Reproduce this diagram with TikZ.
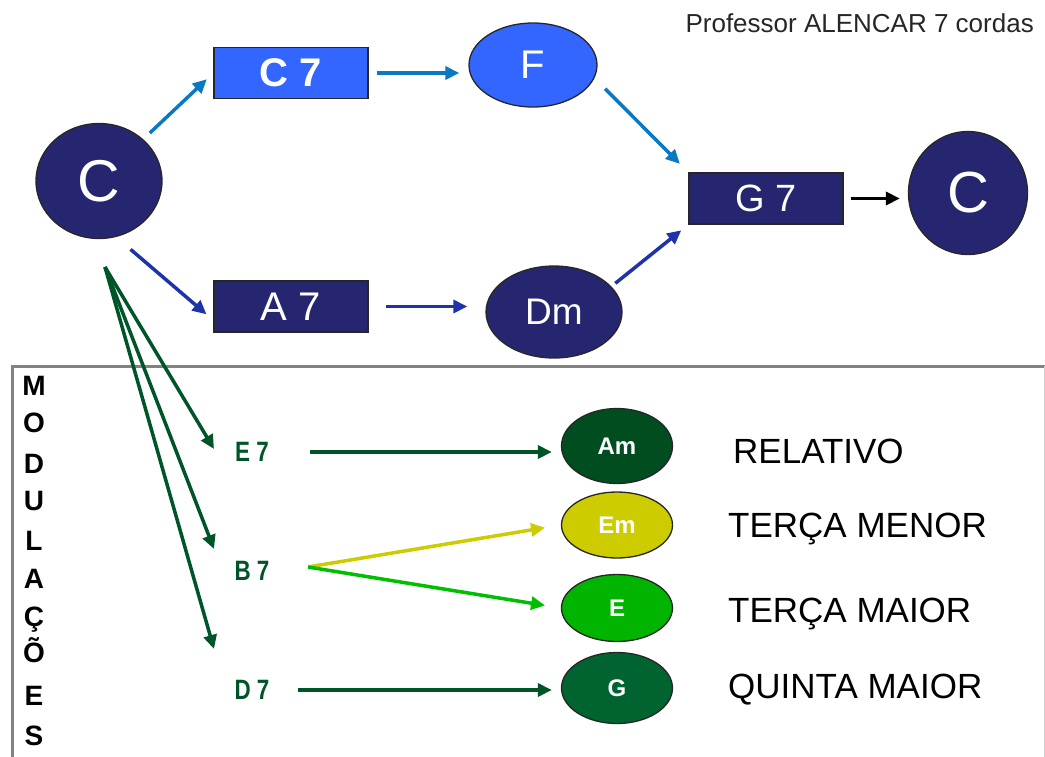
\documentclass[tikz,border=0pt]{standalone}
\usepackage{fontspec}
\setmainfont{Liberation Sans}
\usetikzlibrary{shapes.geometric,arrows.meta,calc}

\definecolor{navy}{RGB}{38,38,112}
\definecolor{brightblue}{RGB}{51,102,255}
\definecolor{arrowblue}{RGB}{10,120,195}
\definecolor{arrowdeep}{RGB}{30,50,170}
\definecolor{modgreen}{RGB}{0,85,40}
\definecolor{amgreen}{RGB}{0,77,32}
\definecolor{emyellow}{RGB}{204,204,0}
\definecolor{egreen}{RGB}{0,180,0}
\definecolor{ggreen}{RGB}{0,100,48}
\definecolor{arrowlime}{RGB}{0,190,0}
\definecolor{arrowolive}{RGB}{204,204,0}
\definecolor{framegray}{RGB}{130,130,130}

\newcommand{\fsz}[1]{\fontsize{#1}{#1}\selectfont}

\tikzset{
  chordbox/.style={rectangle, draw=black!85, line width=1.3pt, inner sep=0pt,
    text=white, minimum width=154pt, minimum height=51pt},
  chordoval/.style={ellipse, draw=black!85, line width=1.3pt, inner sep=0pt, text=white},
  tipshape/.style={-{Triangle[length=14pt,width=13pt]}},
  flow/.style={line width=3.5pt, tipshape},
  modarrow/.style={line width=3.5pt, modgreen, tipshape},
  modletter/.style={anchor=base, inner sep=0pt, font=\bfseries\fsz{28}},
  modlabel/.style={inner sep=0pt, text=modgreen, font=\bfseries\fsz{28}},
  quality/.style={anchor=base west, inner sep=0pt, font=\fsz{35}},
}

\begin{document}
\begin{tikzpicture}[x=1pt,y=-1pt]
\useasboundingbox (0,0) rectangle (1045,756);

% frame of the modulation area
\draw[framegray, line width=3pt] (12,775) -- (12,366) -- (1046,366);
\draw[black!18, line width=1pt] (1044,366) -- (1044,775);

% title
\node[anchor=base east, inner sep=0pt, font=\fsz{26}, text=black!85] (title) at (1034,32) {Professor ALENCAR 7 cordas};

% main cadence
\node[chordoval, fill=navy, minimum width=126pt, minimum height=115pt, font=\fsz{59}] (C1) at (99,181) {C};
\node[chordbox, fill=brightblue, font=\bfseries\fsz{40}] (C7) at (291,73) {C 7};
\node[chordoval, fill=brightblue, minimum width=128pt, minimum height=84pt, font=\fsz{40}] (F) at (533,65) {F};
\node[chordbox, fill=navy, font=\fsz{40}] (A7) at (291,306.5) {A 7};
\node[chordoval, fill=navy, minimum width=136pt, minimum height=92pt, font=\fsz{37}] (Dm) at (554,312) {Dm};
\node[chordbox, fill=navy, font=\fsz{38}] (G7) at (766,198.5) {G 7};
\node[chordoval, fill=navy, minimum width=119pt, minimum height=123pt, font=\fsz{58}] (C2) at (968,193) {C};

\draw[flow, arrowblue, shorten <=9pt, shorten >=9pt] (C1) -- (C7.west);
\draw[flow, arrowblue, shorten <=8pt, shorten >=9pt] (C7.east) -- (C7.east -| F.west);
\draw[flow, arrowblue, shorten <=15pt, shorten >=12pt] (F.-12) -- (G7.north west);
\draw[flow, arrowdeep, shorten <=19pt, shorten >=9pt] (C1.-73) -- (A7.190);
\draw[flow, arrowdeep, shorten <=17pt, shorten >=18pt] (A7.east) -- (A7.east -| Dm.west);
\draw[flow, arrowdeep, shorten <=5pt, shorten >=9pt] (Dm.24) -- (G7.south west);
\draw[flow, black, shorten <=7pt, shorten >=8pt] (G7.east) -- (G7.east -| C2.west);

% vertical caption
\foreach \ch/\yy [count=\i] in {M/395, O/432, D/473, U/510, L/550, A/588, Ç/626, Õ/662, E/705, S/745}
  \node[modletter] (mod\i) at (34,\yy) {\ch};

% modulations
\coordinate (fan) at (105,267);
\coordinate (tipE) at (214,449);
\coordinate (tipB) at (214,549);
\coordinate (tipD) at (214,649);
\draw[modarrow] (fan) -- (tipE);
\draw[modarrow] (fan) -- (tipB);
\draw[modarrow] (fan) -- (tipD);

\node[modlabel] (E7) at (252,452) {\scalebox{0.8}[1]{E 7}};
\node[modlabel] (B7) at (252,571) {\scalebox{0.8}[1]{B 7}};
\node[modlabel] (D7) at (252,690) {\scalebox{0.8}[1]{D 7}};
\coordinate (split) at (308,567);

\node[chordoval, fill=amgreen, minimum width=111pt, minimum height=75pt, font=\bfseries\fsz{24}] (Am) at (617,446) {Am};
\node[chordoval, fill=emyellow, minimum width=111pt, minimum height=66pt, font=\bfseries\fsz{24}] (Em) at (617,525) {Em};
\node[chordoval, fill=egreen, minimum width=111pt, minimum height=67pt, font=\bfseries\fsz{24}] (E) at (617,608) {E};
\node[chordoval, fill=ggreen, minimum width=111pt, minimum height=71pt, font=\bfseries\fsz{24}] (G) at (617,688) {G};

\draw[modarrow, shorten <=41pt, shorten >=9pt] (E7.east) -- (E7.east -| Am.west);
\draw[line width=3.5pt, arrowolive, tipshape, shorten >=16pt] (split) -- (Em.west);
\draw[line width=3.5pt, arrowlime, tipshape, shorten >=16pt] (split) -- (E.west);
\draw[modarrow, shorten <=28pt, shorten >=9pt] (D7.east) -- (D7.east -| G.west);

% qualities
\node[quality] (rel) at (733,463) {RELATIVO};
\node[quality] (tmen) at (728,537) {TERÇA MENOR};
\node[quality] (tmai) at (728,622) {TERÇA MAIOR};
\node[quality] (qmai) at (728,698) {QUINTA MAIOR};
\end{tikzpicture}
\end{document}
